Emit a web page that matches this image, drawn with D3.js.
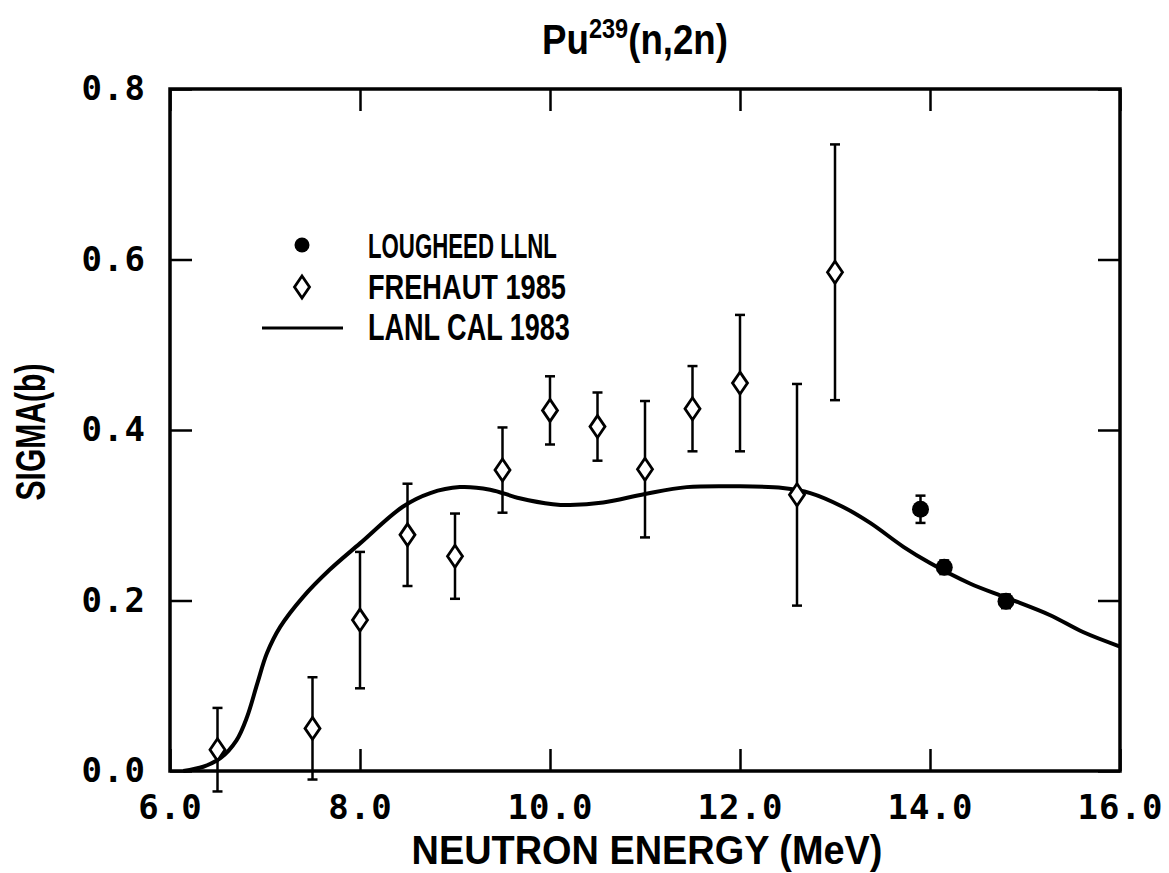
<!DOCTYPE html>
<html><head><meta charset="utf-8">
<script src="https://cdn.jsdelivr.net/npm/d3@7"></script>
<style>
html,body{margin:0;padding:0;background:#fff;}
svg{display:block;}
</style></head>
<body>
<svg id="chart" width="1169" height="873"></svg>
<script>
// ---- data ----
const frehautE   = [6.5, 7.5, 8.0, 8.5, 9.0, 9.5, 10.0, 10.5, 11.0, 11.5, 12.0, 12.6, 13.0];
const frehautSig = [0.025, 0.050, 0.177, 0.277, 0.252, 0.353, 0.423, 0.404, 0.354, 0.425, 0.455, 0.324, 0.585];
const frehautErr = [0.049, 0.060, 0.080, 0.060, 0.050, 0.050, 0.040, 0.040, 0.080, 0.050, 0.080, 0.130, 0.150];

const lougheedE   = [13.9, 14.15, 14.8];
const lougheedSig = [0.307, 0.239, 0.199];
const lougheedErr = [0.016, 0.008, 0.008];

const lanlE   = [6.14, 6.35, 6.53, 6.70, 6.81, 6.92, 7.02, 7.16, 7.40, 7.68, 8.0, 8.45, 8.74, 9.05, 9.37, 9.68, 10.03, 10.21, 10.56, 11.0, 11.44, 11.97, 12.45, 12.74, 13.08, 13.37, 13.72, 14.0, 14.42, 14.81, 15.26, 15.61, 16.0];
const lanlSig = [0.0, 0.005, 0.015, 0.036, 0.063, 0.103, 0.138, 0.169, 0.204, 0.236, 0.267, 0.310, 0.326, 0.333, 0.330, 0.320, 0.313, 0.312, 0.315, 0.325, 0.333, 0.334, 0.332, 0.326, 0.310, 0.291, 0.263, 0.244, 0.220, 0.203, 0.183, 0.163, 0.146];

const xTicks = [6, 8, 10, 12, 14, 16];
const yTicks = [0.0, 0.2, 0.4, 0.6, 0.8];
const legendLabels = ["LOUGHEED LLNL", "FREHAUT 1985", "LANL CAL 1983"];

// ---- layout ----
const L = 170, R = 1120, T = 89, B = 771;
const svg = d3.select("#chart");
const x = d3.scaleLinear().domain([6, 16]).range([L, R]);
const y = d3.scaleLinear().domain([0, 0.8]).range([B, T]);

const sans = "'Liberation Sans', Arial, sans-serif";
const mono = "'DejaVu Sans Mono', monospace";

// condensed text helper
function ctext(parent, str, cx, cy, size, width, anchor, rotate) {
  const g = parent.append("g").attr("transform", `translate(${cx},${cy})` + (rotate ? ` rotate(${rotate})` : ""));
  const inner = g.append("g");
  const t = inner.append("text").attr("font-family", sans).attr("font-size", size)
    .attr("font-weight", "bold").attr("fill", "#000").attr("text-anchor", anchor || "start");
  if (typeof str === "string") t.text(str); else str(t);
  const w = t.node().getBBox().width;
  inner.attr("transform", `scale(${width / w},1)`);
  return g;
}

// frame
svg.append("rect").attr("x", L).attr("y", T).attr("width", R - L).attr("height", B - T)
  .attr("fill", "none").attr("stroke", "#000").attr("stroke-width", 3.5);

// axes
const tickLen = 22;
const axB = svg.append("g").attr("transform", `translate(0,${B})`)
  .call(d3.axisBottom(x).tickValues(xTicks).tickSizeInner(-tickLen).tickSizeOuter(0).tickPadding(24).tickFormat(d3.format(".1f")));
const axT = svg.append("g").attr("transform", `translate(0,${T})`)
  .call(d3.axisTop(x).tickValues(xTicks).tickSizeInner(-tickLen).tickSizeOuter(0).tickFormat(""));
const axL = svg.append("g").attr("transform", `translate(${L},0)`)
  .call(d3.axisLeft(y).tickValues(yTicks).tickSizeInner(-tickLen).tickSizeOuter(0).tickPadding(24).tickFormat(d3.format(".1f")));
const axR = svg.append("g").attr("transform", `translate(${R},0)`)
  .call(d3.axisRight(y).tickValues(yTicks).tickSizeInner(-tickLen).tickSizeOuter(0).tickFormat(""));
[axB, axT, axL, axR].forEach(a => {
  a.select(".domain").remove();
  a.selectAll(".tick line").attr("stroke", "#000").attr("stroke-width", 2.5);
  a.selectAll(".tick text").attr("font-family", mono).attr("font-size", 34).attr("font-weight", "bold")
    .attr("fill", "#000").attr("letter-spacing", 1);
});

// curve
const line = d3.line().x((d, i) => x(lanlE[i])).y((d, i) => y(lanlSig[i])).curve(d3.curveCatmullRom.alpha(0.5));
svg.append("path").datum(lanlSig).attr("d", line).attr("fill", "none").attr("stroke", "#000")
  .attr("stroke-width", 4).attr("stroke-linejoin", "round");

// error bars
const cap = 5;
function errbars(E, S, Er) {
  const g = svg.append("g").attr("stroke", "#000").attr("stroke-width", 2.5);
  E.forEach((e, i) => {
    const xc = x(e), y1 = y(S[i] + Er[i]), y0 = y(S[i] - Er[i]);
    g.append("line").attr("x1", xc).attr("x2", xc).attr("y1", y1).attr("y2", y0);
    g.append("line").attr("x1", xc - cap).attr("x2", xc + cap).attr("y1", y1).attr("y2", y1);
    g.append("line").attr("x1", xc - cap).attr("x2", xc + cap).attr("y1", y0).attr("y2", y0);
  });
}
errbars(frehautE, frehautSig, frehautErr);
errbars(lougheedE, lougheedSig, lougheedErr);

const dw = 7.5, dh = 11;
const diamond = (cx, cy) => `M${cx},${cy - dh}L${cx + dw},${cy}L${cx},${cy + dh}L${cx - dw},${cy}Z`;
svg.append("g").selectAll("path").data(frehautSig).join("path")
  .attr("d", (d, i) => diamond(x(frehautE[i]), y(d)))
  .attr("fill", "#fff").attr("stroke", "#000").attr("stroke-width", 2.8);

svg.append("g").selectAll("circle").data(lougheedSig).join("circle")
  .attr("cx", (d, i) => x(lougheedE[i])).attr("cy", d => y(d)).attr("r", 8.5).attr("fill", "#000");

// legend
svg.append("circle").attr("cx", 302).attr("cy", 245).attr("r", 7.5).attr("fill", "#000");
svg.append("path").attr("d", diamond(302, 287)).attr("fill", "#fff").attr("stroke", "#000").attr("stroke-width", 2.8);
svg.append("line").attr("x1", 262).attr("x2", 343).attr("y1", 328).attr("y2", 328).attr("stroke", "#000").attr("stroke-width", 3);
ctext(svg, legendLabels[0], 368, 258, 36, 189, "start");
ctext(svg, legendLabels[1], 368, 299, 36, 198, "start");
ctext(svg, legendLabels[2], 368, 340, 36, 202, "start");

// title
ctext(svg, t => {
  t.append("tspan").text("Pu");
  t.append("tspan").attr("font-size", 27).attr("dy", -16).text("239");
  t.append("tspan").attr("dy", 16).text("(n,2n)");
}, 635, 54, 42, 186, "middle");

// axis titles
ctext(svg, "NEUTRON ENERGY (MeV)", 647, 864, 40, 471, "middle");
ctext(svg, "SIGMA(b)", 45, 432, 42, 137, "middle", -90);
</script>
</body></html>
